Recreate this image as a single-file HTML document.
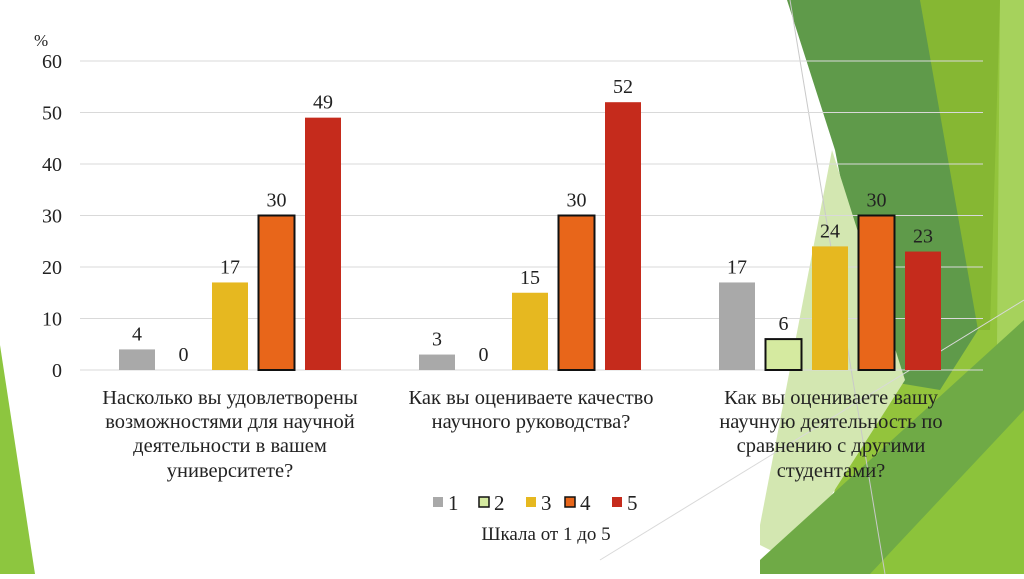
<!DOCTYPE html>
<html><head><meta charset="utf-8"><style>
body{margin:0;width:1024px;height:574px;overflow:hidden;background:#fff;font-family:"Liberation Serif","Noto Serif CJK SC",serif}
svg text{font-family:"Liberation Serif","Noto Serif CJK SC",serif;fill:#222}
</style></head><body>
<svg id="c" width="1024" height="574">
<g>
<polygon points="0,345 0,574 35,574" fill="#8dc63f"/>
<polygon points="920,0 1024,0 1024,574 820,574" fill="#93c43c"/>
<polygon points="1000,0 1024,0 1024,574 995,574" fill="#a6d25c"/>
<polygon points="920,0 1000,0 990,330 975,330" fill="#86b733"/>
<polygon points="787,0 920,0 978,330 940,390 880,380 835,150" fill="#5f9a4a"/>
<polygon points="832,150 905,380 790,560 760,545 760,525" fill="#d3e7b1"/>
<polygon points="760,574 760,560 1024,320 1024,574" fill="#6faa46"/>
<polygon points="870,574 1024,410 1024,574" fill="#8cc33b"/>
<line x1="790" y1="0" x2="885" y2="574" stroke="#c9c9c9" stroke-width="1"/>
<line x1="600" y1="560" x2="1024" y2="300" stroke="#d9d9d9" stroke-width="1"/>
</g>
<g id="grid"></g><g id="bars"></g>
<text x="34" y="46" font-size="17">%</text>
<g font-size="20.5" text-anchor="middle">
<text x="230" y="404">Насколько вы удовлетворены</text><text x="230" y="428">возможностями для научной</text><text x="230" y="452">деятельности в вашем</text><text x="230" y="477">университете?</text>
<text x="531" y="404">Как вы оцениваете качество</text><text x="531" y="428">научного руководства?</text>
<text x="831" y="404">Как вы оцениваете вашу</text><text x="831" y="428">научную деятельность по</text><text x="831" y="452">сравнению с другими</text><text x="831" y="477">студентами?</text>
</g>
<g id="legend"></g>
<text x="546" y="540" font-size="19" text-anchor="middle">Шкала от 1 до 5</text>
</svg>
<script>
const categories=["q1","q2","q3"];
const s1=[4,3,17];
const s2=[0,0,6];
const s3=[17,15,24];
const s4=[30,30,30];
const s5=[49,52,23];
const yTicks=[0,10,20,30,40,50,60];
const seriesNames=["1","2","3","4","5"];
const NS="http://www.w3.org/2000/svg";
const fills=["#a9a9a9","#d5eaa0","#e6b820","#e8661a","#c52b1c"];
const strokes=[null,"#111",null,"#111",null];
const y=v=>370-v*309/60;
const x0=80,gw=300;
function mk(t,a,p){const e=document.createElementNS(NS,t);for(const k in a)e.setAttribute(k,a[k]);(p).appendChild(e);return e;}
const grid=document.getElementById('grid');
yTicks.forEach(t=>{
 const l=mk('line',{x1:80,x2:983,y1:y(t),y2:y(t),stroke:'#d9d9d9'},grid);
 
 
 const tx=mk('text',{x:62,y:y(t)+7,'font-size':20,'text-anchor':'end'},grid);tx.textContent=t;
 
 
});
const bars=document.getElementById('bars');
const all=[s1,s2,s3,s4,s5];
categories.forEach((c,i)=>{
 const cx=x0+gw*i+gw/2;
 all.forEach((s,j)=>{
  const bx=cx+(j-2)*46.5-18,v=s[i];
  const a={x:bx,y:y(v),width:36,height:370-y(v),fill:fills[j]};
  if(strokes[j]){a.stroke=strokes[j];a['stroke-width']=2;}
  const r=mk('rect',a,bars);
  
  
  const t=mk('text',{x:bx+18,y:y(v)-9,'font-size':20,'text-anchor':'middle'},bars);t.textContent=v;
  
  
 });
});
const lg=document.getElementById('legend');
const lx=[433,479,526,565,612];
seriesNames.forEach((n,j)=>{
 const a={x:lx[j],y:497,width:10,height:10,fill:fills[j]};
 if(strokes[j]){a.stroke=strokes[j];a['stroke-width']=1.5;}
 const r=mk('rect',a,lg);
 
 
 const t=mk('text',{x:lx[j]+15,y:510,'font-size':21},lg);t.textContent=n;
 
 
});
</script>
</body></html>
